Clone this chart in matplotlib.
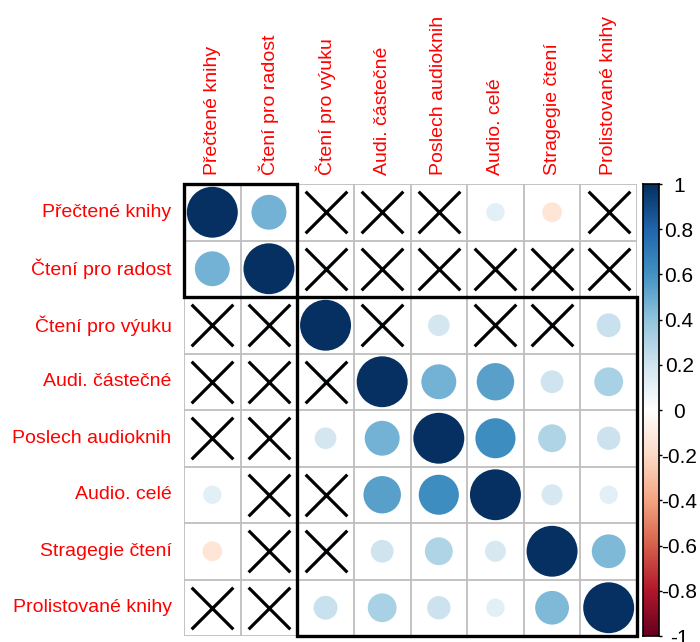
import numpy as np
import matplotlib
matplotlib.use('Agg')
import matplotlib.pyplot as plt
from matplotlib.patches import Circle, Rectangle
from matplotlib.colors import LinearSegmentedColormap, Normalize

plt.rcParams['font.family'] = ['Liberation Sans', 'DejaVu Sans']

# ================= data =================
labels = ['Přečtené knihy', 'Čtení pro radost', 'Čtení pro výuku', 'Audi. částečné',
          'Poslech audioknih', 'Audio. celé', 'Stragegie čtení', 'Prolistované knihy']

corr = [
    [1.00, 0.47, 0.01, 0.00, 0.01, 0.13, -0.15, -0.01],
    [0.47, 1.00, 0.06, 0.01, 0.01, 0.05, -0.04, 0.01],
    [0.01, 0.06, 1.00, 0.06, 0.18, 0.05, 0.05, 0.22],
    [0.00, 0.01, 0.06, 1.00, 0.47, 0.54, 0.20, 0.32],
    [0.01, 0.01, 0.18, 0.47, 1.00, 0.62, 0.30, 0.21],
    [0.13, 0.05, 0.05, 0.54, 0.62, 1.00, 0.17, 0.13],
    [-0.15, -0.04, 0.05, 0.20, 0.30, 0.17, 1.00, 0.44],
    [-0.01, 0.01, 0.22, 0.32, 0.21, 0.13, 0.44, 1.00],
]

# 1 = nevyznamne (krizek)
insig = [
    [0, 0, 1, 1, 1, 0, 0, 1],
    [0, 0, 1, 1, 1, 1, 1, 1],
    [1, 1, 0, 1, 0, 1, 1, 0],
    [1, 1, 1, 0, 0, 0, 0, 0],
    [1, 1, 0, 0, 0, 0, 0, 0],
    [0, 1, 1, 0, 0, 0, 0, 0],
    [0, 1, 1, 0, 0, 0, 0, 0],
    [1, 1, 0, 0, 0, 0, 0, 0],
]

cluster_sizes = [2, 6]

cbar_ticks = [1, 0.8, 0.6, 0.4, 0.2, 0, -0.2, -0.4, -0.6, -0.8, -1]
cbar_labels = ['1', '0.8', '0.6', '0.4', '0.2', '0', '-0.2', '-0.4', '-0.6', '-0.8', '-1']

# ================= barvy =================
col2 = ["#67001F", "#B2182B", "#D6604D", "#F4A582", "#FDDBC7", "#FFFFFF",
        "#D1E5F0", "#92C5DE", "#4393C3", "#2166AC", "#053061"]
cmap = LinearSegmentedColormap.from_list('RdBu_corrplot', col2, N=200)
norm = Normalize(-1, 1)

corr = np.array(corr)
insig = np.array(insig)
n = len(labels)

W, H = 700, 642
fig = plt.figure(figsize=(W / 100, H / 100), dpi=100)

# hlavni graf
ax = fig.add_axes([184 / W, (H - 636) / H, 453 / W, 452 / H])
ax.set_xlim(0, n)
ax.set_ylim(n, 0)
ax.set_aspect('auto')
ax.axis('off')

# mrizka
for k in range(n + 1):
    ax.plot([0, n], [k, k], color='#BEBEBE', lw=1.3, zorder=1, solid_capstyle='butt')
    ax.plot([k, k], [0, n], color='#BEBEBE', lw=1.3, zorder=1, solid_capstyle='butt')

# kruhy
for i in range(n):
    for j in range(n):
        r = corr[i, j]
        rad = 0.45 * np.sqrt(abs(r))
        if rad > 0:
            ax.add_patch(Circle((j + 0.5, i + 0.5), rad, facecolor=cmap(norm(r)),
                                edgecolor='none', zorder=2))

# krizky pro nevyznamne
yy, xx = np.nonzero(insig)
ax.scatter(xx + 0.5, yy + 0.5, marker='x', s=30 ** 2, c='black', linewidths=2.3, zorder=3)

# obdelniky shluku
start = 0
for size in cluster_sizes:
    ax.add_patch(Rectangle((start, start), size, size, fill=False, edgecolor='black',
                           lw=2.4, zorder=4, clip_on=False))
    start += size

# popisky
for k, lab in enumerate(labels):
    ax.text(-0.22, k + 0.5, lab, color='red', fontsize=14, ha='right', va='center')
    ax.text(k + 0.5, -0.16, lab, color='red', fontsize=14, ha='center', va='bottom',
            rotation=90)

# barevna skala
cax = fig.add_axes([643 / W, (H - 636) / H, 16 / W, 452 / H])
grad = np.linspace(-1, 1, 200).reshape(-1, 1)
cax.imshow(grad, cmap=cmap, norm=norm, origin='lower', aspect='auto', extent=[0, 1, -1, 1])
cax.set_xticks([])
cax.yaxis.tick_right()
cax.set_yticks(cbar_ticks)
cax.set_yticklabels(cbar_labels, fontsize=15)
cax.tick_params(axis='y', length=2.5, width=1, pad=12)
plt.setp(cax.get_yticklabels(), ha='center')
for s in cax.spines.values():
    s.set_linewidth(1.2)

fig.savefig('out.png', dpi=100)
